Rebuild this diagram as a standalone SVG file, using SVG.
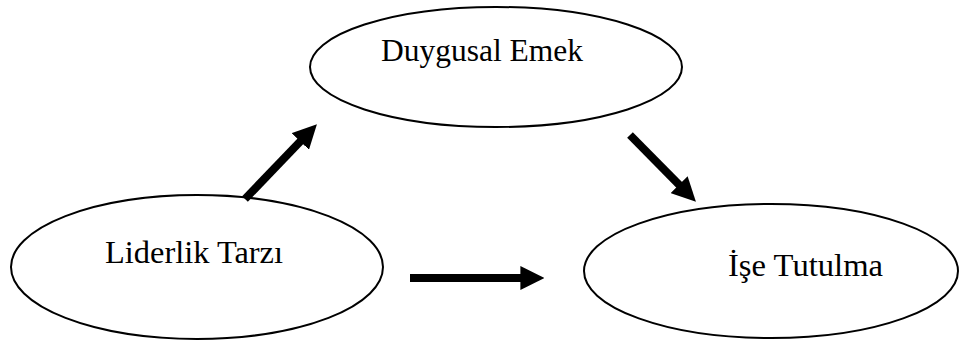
<svg xmlns="http://www.w3.org/2000/svg" width="961" height="343" viewBox="0 0 961 343">
<style>
.node ellipse{fill:#fff;stroke:#000;stroke-width:2}
.node text{font-family:"Liberation Serif","Times New Roman",serif;font-size:32px;fill:#000}
.conn line{stroke:#000;stroke-width:8;fill:none}
</style>
<defs>
<marker id="ah" markerWidth="3" markerHeight="3" refX="0.2" refY="1.5" orient="auto" markerUnits="strokeWidth">
<path d="M0,0 L3,1.5 L0,3 z" fill="#000"/>
</marker>
</defs>
<g id="duygusal-emek" class="node">
<ellipse cx="496" cy="67" rx="186" ry="60"/>
<text x="381" y="61" textLength="202" lengthAdjust="spacingAndGlyphs">Duygusal Emek</text>
</g>
<g id="liderlik-tarzi" class="node">
<ellipse cx="197" cy="267" rx="186" ry="72"/>
<text x="105" y="263" textLength="178" lengthAdjust="spacingAndGlyphs">Liderlik Tarzı</text>
</g>
<g id="ise-tutulma" class="node">
<ellipse cx="771" cy="271" rx="187" ry="67"/>
<text x="728" y="276" textLength="155" lengthAdjust="spacingAndGlyphs">İşe Tutulma</text>
</g>
<g id="connectors" class="conn">
<line x1="245" y1="199" x2="301.4" y2="140.3" marker-end="url(#ah)"/>
<line x1="630" y1="135" x2="680.2" y2="185.9" marker-end="url(#ah)"/>
<line x1="410" y1="278" x2="522" y2="278" marker-end="url(#ah)"/>
</g>
</svg>
